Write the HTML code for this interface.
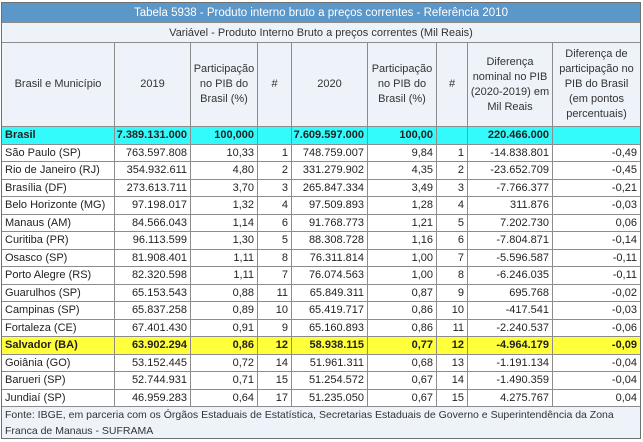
<!DOCTYPE html>
<html><head><meta charset="utf-8">
<style>
html,body{margin:0;padding:0;background:#fff;}
body{width:643px;height:442px;position:relative;overflow:hidden;font-family:"Liberation Sans",Arial,sans-serif;font-size:11px;color:#222;}
.g{position:absolute;left:1px;top:2px;display:grid;
grid-template-columns:112px 75px 66px 33px 75px 68px 30px 84px 87px;
grid-template-rows:19px 19px 83px repeat(16,16.5px) 31px;
gap:1px;background:#8c8c8c;border:1px solid #707070;}
.g>div{background:#fff;display:flex;align-items:center;justify-content:flex-end;padding:0 3px;white-space:nowrap;overflow:hidden;}
.g>div.l{justify-content:flex-start;}
.g>.t{grid-column:1/-1;background:#5b97c9;color:#fff;justify-content:center;font-size:11.5px;}
.g>.s{grid-column:1/-1;background:#eef3fa;color:#333;justify-content:center;}
.g>.h{background:#eef3fa;color:#333;justify-content:center;text-align:center;line-height:15px;padding:0 1px;}
.g>.f{grid-column:1/-1;background:#eef3fa;color:#333;justify-content:flex-start;align-items:flex-start;line-height:15.5px;padding-top:1px;font-size:10.5px;}
.g>.c{background:#33fbfb;font-weight:bold;}
.g>.y{background:#ffff3a;font-weight:bold;}
</style></head><body>
<div class="g">
<div class="t">Tabela 5938 - Produto interno bruto a preços correntes - Referência 2010</div>
<div class="s">Variável - Produto Interno Bruto a preços correntes (Mil Reais)</div>
<div class="h">Brasil e Município</div>
<div class="h">2019</div>
<div class="h">Participação<br>no PIB do<br>Brasil (%)</div>
<div class="h">#</div>
<div class="h">2020</div>
<div class="h">Participação<br>no PIB do<br>Brasil (%)</div>
<div class="h">#</div>
<div class="h">Diferença<br>nominal no PIB<br>(2020-2019) em<br>Mil Reais</div>
<div class="h">Diferença de<br>participação no<br>PIB do Brasil<br>(em pontos<br>percentuais)</div>

<div class="c l">Brasil</div><div class="c">7.389.131.000</div><div class="c">100,000</div><div class="c"></div><div class="c">7.609.597.000</div><div class="c">100,00</div><div class="c"></div><div class="c">220.466.000</div><div class="c"></div>

<div class="l">São Paulo (SP)</div><div>763.597.808</div><div>10,33</div><div>1</div><div>748.759.007</div><div>9,84</div><div>1</div><div>-14.838.801</div><div>-0,49</div>
<div class="l">Rio de Janeiro (RJ)</div><div>354.932.611</div><div>4,80</div><div>2</div><div>331.279.902</div><div>4,35</div><div>2</div><div>-23.652.709</div><div>-0,45</div>
<div class="l">Brasília (DF)</div><div>273.613.711</div><div>3,70</div><div>3</div><div>265.847.334</div><div>3,49</div><div>3</div><div>-7.766.377</div><div>-0,21</div>
<div class="l">Belo Horizonte (MG)</div><div>97.198.017</div><div>1,32</div><div>4</div><div>97.509.893</div><div>1,28</div><div>4</div><div>311.876</div><div>-0,03</div>
<div class="l">Manaus (AM)</div><div>84.566.043</div><div>1,14</div><div>6</div><div>91.768.773</div><div>1,21</div><div>5</div><div>7.202.730</div><div>0,06</div>
<div class="l">Curitiba (PR)</div><div>96.113.599</div><div>1,30</div><div>5</div><div>88.308.728</div><div>1,16</div><div>6</div><div>-7.804.871</div><div>-0,14</div>
<div class="l">Osasco (SP)</div><div>81.908.401</div><div>1,11</div><div>8</div><div>76.311.814</div><div>1,00</div><div>7</div><div>-5.596.587</div><div>-0,11</div>
<div class="l">Porto Alegre (RS)</div><div>82.320.598</div><div>1,11</div><div>7</div><div>76.074.563</div><div>1,00</div><div>8</div><div>-6.246.035</div><div>-0,11</div>
<div class="l">Guarulhos (SP)</div><div>65.153.543</div><div>0,88</div><div>11</div><div>65.849.311</div><div>0,87</div><div>9</div><div>695.768</div><div>-0,02</div>
<div class="l">Campinas (SP)</div><div>65.837.258</div><div>0,89</div><div>10</div><div>65.419.717</div><div>0,86</div><div>10</div><div>-417.541</div><div>-0,03</div>
<div class="l">Fortaleza (CE)</div><div>67.401.430</div><div>0,91</div><div>9</div><div>65.160.893</div><div>0,86</div><div>11</div><div>-2.240.537</div><div>-0,06</div>
<div class="y l">Salvador (BA)</div><div class="y">63.902.294</div><div class="y">0,86</div><div class="y">12</div><div class="y">58.938.115</div><div class="y">0,77</div><div class="y">12</div><div class="y">-4.964.179</div><div class="y">-0,09</div>
<div class="l">Goiânia (GO)</div><div>53.152.445</div><div>0,72</div><div>14</div><div>51.961.311</div><div>0,68</div><div>13</div><div>-1.191.134</div><div>-0,04</div>
<div class="l">Barueri (SP)</div><div>52.744.931</div><div>0,71</div><div>15</div><div>51.254.572</div><div>0,67</div><div>14</div><div>-1.490.359</div><div>-0,04</div>
<div class="l">Jundiaí (SP)</div><div>46.959.283</div><div>0,64</div><div>17</div><div>51.235.050</div><div>0,67</div><div>15</div><div>4.275.767</div><div>0,04</div>

<div class="f">Fonte: IBGE, em parceria com os Órgãos Estaduais de Estatística, Secretarias Estaduais de Governo e Superintendência da Zona<br>Franca de Manaus - SUFRAMA</div>
</div>
</body></html>
